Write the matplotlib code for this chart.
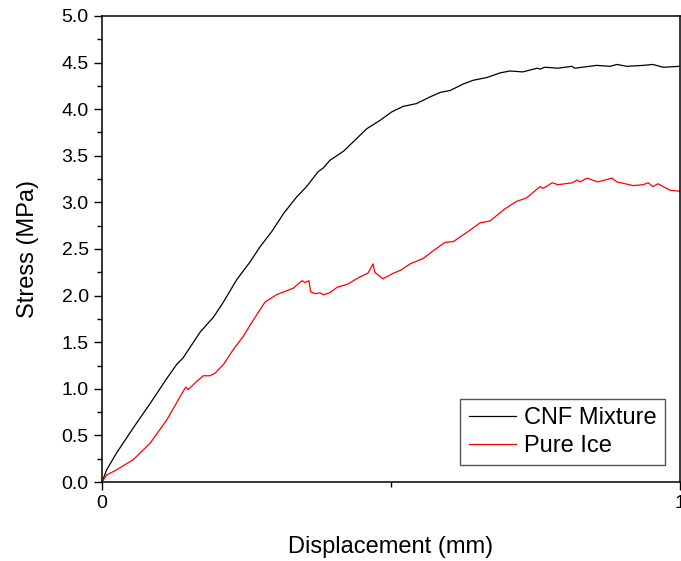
import matplotlib
matplotlib.use("Agg")
import matplotlib.pyplot as plt
from matplotlib.ticker import MultipleLocator

plt.rcParams['font.family'] = ['Liberation Sans', 'DejaVu Sans']

# CNF mixture (black) - displacement (mm), stress (MPa)
cnf_x = [0.0, 0.008, 0.025, 0.054, 0.083, 0.112, 0.129, 0.140, 0.170, 0.193,
         0.210, 0.233, 0.256, 0.273, 0.294, 0.314, 0.337, 0.354, 0.374, 0.383,
         0.394, 0.418, 0.438, 0.458, 0.481, 0.501, 0.521, 0.544, 0.567, 0.585,
         0.602, 0.625, 0.642, 0.666, 0.689, 0.706, 0.728, 0.753, 0.758, 0.766,
         0.789, 0.813, 0.818, 0.856, 0.879, 0.891, 0.908, 0.936, 0.953, 0.971,
         1.0]
cnf_y = [0.0, 0.13, 0.31, 0.58, 0.84, 1.11, 1.26, 1.33, 1.61, 1.77,
         1.93, 2.17, 2.36, 2.52, 2.69, 2.88, 3.06, 3.17, 3.33, 3.37,
         3.45, 3.55, 3.67, 3.79, 3.88, 3.97, 4.03, 4.06, 4.13, 4.18,
         4.20, 4.27, 4.31, 4.34, 4.39, 4.41, 4.40, 4.44, 4.43, 4.45,
         4.44, 4.46, 4.44, 4.47, 4.46, 4.48, 4.46, 4.47, 4.48, 4.45,
         4.46]

# pure ice (red)
ice_x = [0.0, 0.008, 0.025, 0.054, 0.083, 0.112, 0.135, 0.145, 0.149, 0.164,
         0.175, 0.187, 0.196, 0.210, 0.227, 0.244, 0.262, 0.282, 0.302, 0.331,
         0.346, 0.351, 0.358, 0.361, 0.369, 0.377, 0.383, 0.394, 0.407, 0.424,
         0.446, 0.460, 0.469, 0.472, 0.486, 0.504, 0.516, 0.533, 0.556, 0.573,
         0.593, 0.608, 0.634, 0.654, 0.671, 0.697, 0.717, 0.735, 0.758, 0.763,
         0.779, 0.789, 0.813, 0.822, 0.827, 0.839, 0.858, 0.882, 0.891, 0.919,
         0.936, 0.945, 0.953, 0.962, 0.983, 1.0]
ice_y = [0.0, 0.075, 0.13, 0.24, 0.415, 0.665, 0.915, 1.02, 0.99, 1.08,
         1.14, 1.14, 1.17, 1.26, 1.42, 1.56, 1.74, 1.93, 2.01, 2.08,
         2.16, 2.14, 2.16, 2.04, 2.02, 2.03, 2.01, 2.03, 2.09, 2.12,
         2.20, 2.24, 2.34, 2.25, 2.18, 2.24, 2.27, 2.34, 2.40, 2.48,
         2.57, 2.58, 2.69, 2.78, 2.80, 2.93, 3.01, 3.05, 3.17, 3.15,
         3.21, 3.19, 3.21, 3.24, 3.22, 3.26, 3.22, 3.26, 3.22, 3.18,
         3.19, 3.21, 3.17, 3.20, 3.13, 3.12]

fig = plt.figure(figsize=(6.81, 5.61), dpi=100)
ax = fig.add_axes([0.1498, 0.1408, 0.8487, 0.8307])

ax.plot(cnf_x, cnf_y, color='black', lw=0.9, label='CNF Mixture')
ax.plot(ice_x, ice_y, color='red', lw=0.9, label='Pure Ice')

ax.set_xlim(0, 1)
ax.set_ylim(0, 5)
ax.set_xticks([0, 1])
ax.set_xticklabels(['0', '1'])
ax.xaxis.set_minor_locator(MultipleLocator(0.5))
ax.yaxis.set_major_locator(MultipleLocator(0.5))
ax.yaxis.set_minor_locator(MultipleLocator(0.25))
ax.tick_params(which='major', direction='out', length=6, width=1, labelsize=14)
ax.tick_params(which='minor', direction='out', length=3.5, width=1)
for s in ax.spines.values():
    s.set_linewidth(1.1)

ax.set_xlabel('Displacement (mm)', fontsize=17, labelpad=17)
ax.set_ylabel('Stress (MPa)', fontsize=17, labelpad=16)

leg = ax.legend(loc='lower right', bbox_to_anchor=(0.974, 0.036), fontsize=17,
                fancybox=False, framealpha=1, edgecolor='#555555',
                handlelength=2.0, borderpad=0.35, labelspacing=0.25,
                handletextpad=0.35, borderaxespad=0)
leg.get_frame().set_linewidth(1.0)

fig.savefig('out.png', dpi=100)
